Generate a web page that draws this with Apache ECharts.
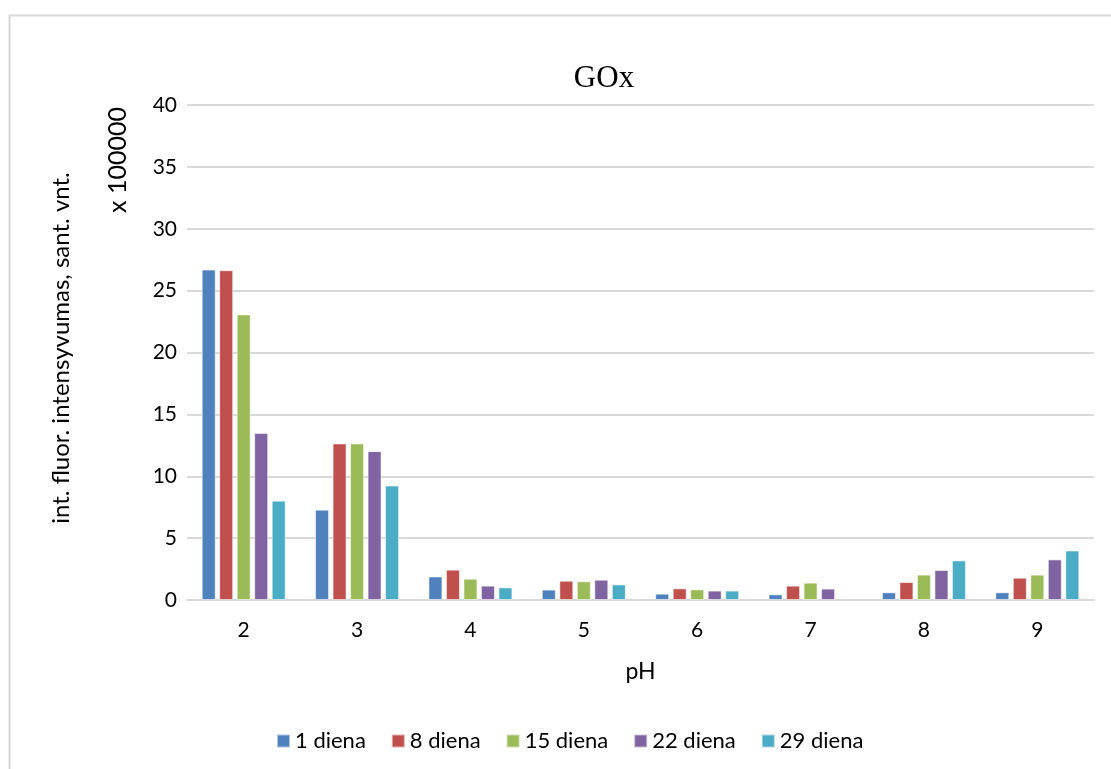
<!DOCTYPE html>
<html>
<head>
<meta charset="utf-8">
<script src="https://cdn.jsdelivr.net/npm/echarts@6/dist/echarts.min.js"></script>
<style>
  html, body { margin: 0; padding: 0; background: #fff; }
  #chart { width: 1111px; height: 769px; }
</style>
</head>
<body>
<div id="chart"></div>
<script>
// pH categories on the x axis
const phValues = ['2', '3', '4', '5', '6', '7', '8', '9'];

// Fluorescence intensity (x 100000) per measurement day
const day1 = [26.7, 7.3, 1.9, 0.84, 0.51, 0.46, 0.62, 0.62];
const day8 = [26.65, 12.65, 2.45, 1.56, 0.94, 1.16, 1.45, 1.8];
const day15 = [23.08, 12.65, 1.72, 1.51, 0.86, 1.4, 2.05, 2.05];
const day22 = [13.49, 12.03, 1.16, 1.64, 0.76, 0.92, 2.42, 3.28];
const day29 = [8.03, 9.25, 1.02, 1.26, 0.76, null, 3.2, 4.0];

const seriesNames = ['1 diena', '8 diena', '15 diena', '22 diena', '29 diena'];
const seriesData = [day1, day8, day15, day22, day29];
const colors = ['#4F81BD', '#C0504D', '#9BBB59', '#8064A2', '#4BACC6'];

const yTicks = { min: 0, max: 40, interval: 5 };

const font = 'Lato, "Open Sans", sans-serif';

const chart = echarts.init(document.getElementById('chart'), null, { renderer: 'canvas' });

chart.setOption({
  animation: false,
  backgroundColor: '#fff',
  color: colors,
  title: {
    text: 'GOx',
    left: 599,
    top: 58,
    textAlign: 'center',
    textStyle: { fontFamily: '"Liberation Serif", "DejaVu Serif", serif', fontWeight: 'normal', fontSize: 31, color: '#000' }
  },
  legend: {
    left: 271,
    top: 725,
    itemWidth: 13,
    itemHeight: 13,
    itemGap: 25,
    icon: 'rect',
    textStyle: { fontFamily: font, fontSize: 22, color: '#000' },
    data: seriesNames
  },
  grid: { left: 187, right: 17, top: 105, bottom: 169 },
  xAxis: {
    type: 'category',
    data: phValues,
    name: 'pH',
    nameLocation: 'middle',
    nameGap: 60,
    nameTextStyle: { fontFamily: font, fontSize: 23, color: '#000' },
    axisLine: { lineStyle: { color: '#d9d9d9', width: 2 } },
    axisTick: { show: false },
    axisLabel: { fontFamily: font, fontSize: 21, color: '#000', margin: 20 }
  },
  yAxis: {
    type: 'value',
    min: yTicks.min,
    max: yTicks.max,
    interval: yTicks.interval,
    axisLine: { show: false },
    axisTick: { show: false },
    axisLabel: { fontFamily: font, fontSize: 21, color: '#000', margin: 10 },
    splitLine: { lineStyle: { color: '#d9d9d9', width: 2 } }
  },
  graphic: [
    {
      type: 'rect',
      silent: true,
      shape: { x: 9.5, y: 15.5, width: 1200, height: 800 },
      style: { fill: 'none', stroke: '#d9d9d9', lineWidth: 2 },
      z: -10
    },
    {
      type: 'text',
      x: 61,
      y: 348,
      rotation: Math.PI / 2,
      style: {
        text: 'int. fluor. intensyvumas, sant. vnt.',
        fontFamily: font,
        fontSize: 24,
        fill: '#000',
        align: 'center',
        verticalAlign: 'middle'
      }
    },
    {
      type: 'text',
      x: 118,
      y: 160,
      rotation: Math.PI / 2,
      style: {
        text: 'x 100000',
        fontFamily: font,
        fontSize: 25,
        fill: '#000',
        align: 'center',
        verticalAlign: 'middle'
      }
    }
  ],
  series: seriesNames.map((name, i) => ({
    name: name,
    type: 'bar',
    data: seriesData[i],
    barWidth: 14,
    barGap: '25%',
    itemStyle: { color: colors[i], borderColor: 'rgba(255,255,255,0.55)', borderWidth: 1 }
  }))
});
</script>
</body>
</html>
